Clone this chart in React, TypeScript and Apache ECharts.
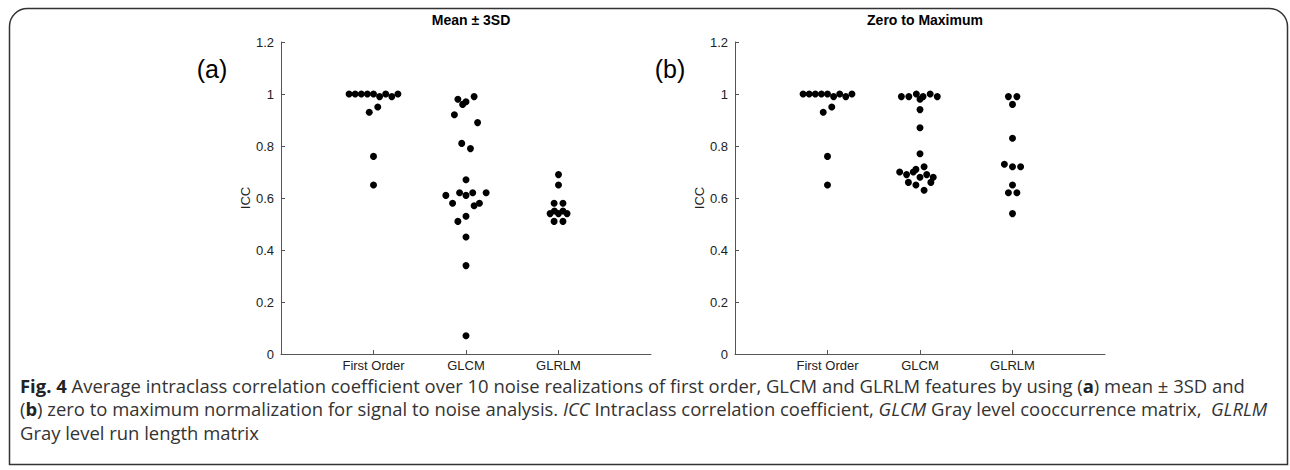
import React, { useEffect, useRef } from "react";
import * as echarts from "echarts";

// ---------- data ----------
const categories = ["First Order", "GLCM", "GLRLM"];
const panelTitles = ["Mean ± 3SD", "Zero to Maximum"];
const panelTags = ["(a)", "(b)"];
const yAxisName = "ICC";

// (a) Mean ± 3SD — ICC values and beeswarm slot (horizontal offset in dot widths)
const meanFirstOrderICC = [1.0, 1.0, 1.0, 1.0, 1.0, 0.99, 1.0, 0.99, 1.0, 0.93, 0.95, 0.76, 0.65];
const meanFirstOrderSlot = [-4, -3, -2, -1, 0, 1, 2, 3, 4, -0.7, 0.7, 0, 0];
const meanGLCMICC = [0.98, 0.96, 0.97, 0.99, 0.92, 0.89, 0.81, 0.79, 0.67, 0.61, 0.62, 0.61, 0.62, 0.62, 0.58, 0.57, 0.58, 0.51, 0.53, 0.45, 0.34, 0.07];
const meanGLCMSlot = [-1.33, -0.55, 0, 1.33, -1.9, 1.9, -0.7, 0.73, 0, -3.3, -1.05, 0, 1.1, 3.3, -2.2, 1.33, 2.2, -1.33, 0, 0, 0, 0];
const meanGLRLMICC = [0.69, 0.65, 0.58, 0.58, 0.54, 0.55, 0.54, 0.55, 0.54, 0.51, 0.51];
const meanGLRLMSlot = [0, 0, -0.72, 0.73, -1.38, -0.67, 0, 0.73, 1.4, -0.72, 0.73];

// (b) Zero to Maximum
const zeroFirstOrderICC = [1.0, 1.0, 1.0, 1.0, 1.0, 0.99, 1.0, 0.99, 1.0, 0.93, 0.95, 0.76, 0.65];
const zeroFirstOrderSlot = [-4, -3, -2, -1, 0, 1, 2, 3, 4, -0.7, 0.7, 0, 0];
const zeroGLCMICC = [0.99, 0.99, 1.0, 0.98, 0.99, 1.0, 0.99, 0.94, 0.87, 0.77, 0.72, 0.7, 0.69, 0.7, 0.71, 0.68, 0.69, 0.68, 0.66, 0.65, 0.66, 0.63];
const zeroGLCMSlot = [-3.05, -1.83, -0.6, 0, 0.5, 1.67, 2.83, 0, 0, 0, 0.67, -3.33, -2.2, -1.1, -0.67, 0, 1.1, 2.17, -1.9, -0.67, 1.78, 0.67];
const zeroGLRLMICC = [0.99, 0.99, 0.96, 0.83, 0.73, 0.72, 0.72, 0.65, 0.62, 0.62, 0.54];
const zeroGLRLMSlot = [-0.67, 0.72, 0, 0, -1.33, 0, 1.33, 0, -0.67, 0.72, 0];

const yTickValues = [0, 0.2, 0.4, 0.6, 0.8, 1, 1.2];

const captionLines = [
  "{b|Fig. 4} Average intraclass correlation coefficient over 10 noise realizations of first order, GLCM and GLRLM features by using ({b|a}) mean ± 3SD and",
  "({b|b}) zero to maximum normalization for signal to noise analysis. {i|ICC} Intraclass correlation coefficient, {i|GLCM} Gray level cooccurrence matrix,  {i|GLRLM}",
  "Gray level run length matrix",
];

// ---------- layout ----------
const SLOT = 0.066; // one dot width in category units
const FONT = "'Liberation Sans', Arial, Helvetica, sans-serif";
const CAP_FONT = "'Open Sans', 'Noto Sans', sans-serif";
const CAP_SIZE = 18.45;
const AXIS_COLOR = "#555";
const TEXT_COLOR = "#222";

function swarm(values: number[], slots: number[], cat: number) {
  return values.map((v, i) => [cat + 1 + slots[i] * SLOT, v]);
}

export default function App() {
  const ref = useRef<HTMLDivElement>(null);

  useEffect(() => {
    if (!ref.current) return;
    const chart = echarts.init(ref.current, undefined, { renderer: "svg" });

    const panels = [
      [
        swarm(meanFirstOrderICC, meanFirstOrderSlot, 0),
        swarm(meanGLCMICC, meanGLCMSlot, 1),
        swarm(meanGLRLMICC, meanGLRLMSlot, 2),
      ],
      [
        swarm(zeroFirstOrderICC, zeroFirstOrderSlot, 0),
        swarm(zeroGLCMICC, zeroGLCMSlot, 1),
        swarm(zeroGLRLMICC, zeroGLRLMSlot, 2),
      ],
    ];

    const gridLefts = [281, 735];
    const gridWidth = 370;
    const gridTop = 42;
    const gridHeight = 312;

    const xAxis = gridLefts.map((_, i) => ({
      type: "value",
      gridIndex: i,
      min: 0,
      max: 4,
      interval: 1,
      splitLine: { show: false },
      axisLine: { show: true, lineStyle: { color: AXIS_COLOR, width: 1 } },
      axisTick: {
        show: true,
        inside: true,
        length: 4,
        customValues: [1, 2, 3],
        lineStyle: { color: AXIS_COLOR },
      },
      axisLabel: {
        customValues: [1, 2, 3],
        formatter: (v: number) => categories[Math.round(v) - 1] ?? "",
        color: TEXT_COLOR,
        fontFamily: FONT,
        fontSize: 13,
        margin: 5,
      },
    }));

    const yAxis = gridLefts.map((_, i) => ({
      type: "value",
      gridIndex: i,
      min: 0,
      max: 1.2,
      interval: 0.2,
      name: yAxisName,
      nameLocation: "middle",
      nameGap: 24,
      nameRotate: 90,
      nameTextStyle: { color: TEXT_COLOR, fontFamily: FONT, fontSize: 13 },
      splitLine: { show: false },
      axisLine: { show: true, lineStyle: { color: AXIS_COLOR, width: 1 } },
      axisTick: {
        show: true,
        inside: true,
        length: 4,
        customValues: yTickValues,
        lineStyle: { color: AXIS_COLOR },
      },
      axisLabel: {
        customValues: yTickValues,
        formatter: (v: number) => String(Math.round(v * 10) / 10),
        color: TEXT_COLOR,
        fontFamily: FONT,
        fontSize: 13,
        margin: 7,
      },
    }));

    const series = panels.map((groups, i) => ({
      type: "scatter",
      xAxisIndex: i,
      yAxisIndex: i,
      symbol: "circle",
      symbolSize: 7,
      itemStyle: { color: "#000", opacity: 1 },
      data: groups.flat(),
    }));

    const capRich = {
      b: { fontWeight: "bold", fontFamily: CAP_FONT, fontSize: CAP_SIZE, lineHeight: 19, fill: "#222" },
      i: { fontStyle: "italic", fontFamily: CAP_FONT, fontSize: CAP_SIZE, lineHeight: 19, fill: "#333" },
    };

    chart.setOption({
      animation: false,
      backgroundColor: "#fff",
      grid: gridLefts.map((l) => ({ left: l, top: gridTop, width: gridWidth, height: gridHeight })),
      xAxis,
      yAxis,
      series,
      title: panelTitles.map((t, i) => ({
        text: t,
        left: gridLefts[i] + gridWidth / 2,
        top: 8,
        textAlign: "center",
        textStyle: { fontFamily: FONT, fontSize: 14, fontWeight: "bold", color: "#000" },
      })),
      graphic: [
        {
          type: "rect",
          shape: { x: 9.5, y: 8.5, width: 1278, height: 456, r: [18, 18, 0, 0] },
          style: { fill: "none", stroke: "#333", lineWidth: 1.5 },
          silent: true,
        },
        ...panelTags.map((t, i) => ({
          type: "text",
          x: [212, 670][i],
          y: 69,
          style: {
            text: t,
            fontFamily: FONT,
            fontSize: 25,
            fill: "#000",
            align: "center",
            verticalAlign: "middle",
          },
        })),
        ...captionLines.map((line, i) => ({
          type: "text",
          x: 20,
          y: 385 + i * 23.5,
          style: {
            text: line,
            fontFamily: CAP_FONT,
            fontSize: CAP_SIZE,
            lineHeight: 19,
            verticalAlign: "middle",
            fill: "#333",
            rich: capRich,
          },
        })),
      ],
    });

    return () => chart.dispose();
  }, []);

  return (
    <div
      ref={ref}
      style={{ position: "fixed", left: 0, top: 0, width: 1290, height: 470, background: "#fff" }}
    />
  );
}
